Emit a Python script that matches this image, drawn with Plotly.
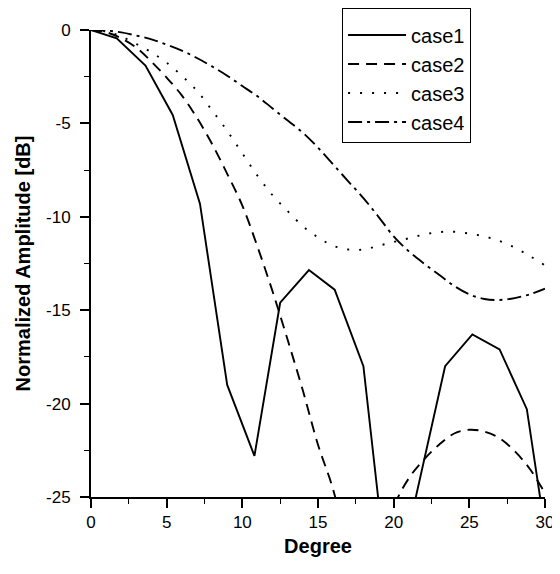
import plotly.graph_objects as go

# ---- data ----
deg_case1 = [0, 1.7, 3.6, 5.4, 7.2, 9.0, 10.8, 12.5, 14.4, 16.1, 18.0, 19.8, 21.3, 23.4, 25.2, 27.0, 28.8, 30.6]
amp_case1 = [0, -0.45, -1.9, -4.55, -9.3, -19.0, -22.8, -14.6, -12.85, -13.9, -18.0, -31.0, -25.6, -18.0, -16.3, -17.1, -20.3, -30.0]

deg_smooth = list(range(0, 31))
amp_case2 = [0, -0.12, -0.45, -0.95, -1.7, -2.55, -3.5, -4.7, -6.1, -7.7, -9.4, -11.6, -14.0, -16.6, -19.3,
             -22.2, -24.6, -28.0, -32.0, -30.0, -25.6, -24.0, -23.0, -22.2, -21.6, -21.4, -21.5, -21.85, -22.55,
             -23.5, -24.8]
amp_case3 = [0, -0.08, -0.35, -0.75, -1.2, -1.75, -2.45, -3.25, -4.3, -5.4, -6.6, -7.8, -8.85, -9.7, -10.5,
             -11.1, -11.55, -11.75, -11.75, -11.55, -11.35, -11.15, -10.95, -10.82, -10.8, -10.9, -11.05, -11.3,
             -11.65, -12.1, -12.6]
amp_case4 = [0, -0.03, -0.13, -0.3, -0.5, -0.78, -1.1, -1.5, -1.95, -2.45, -3.0, -3.55, -4.2, -4.85, -5.5,
             -6.3, -7.2, -8.1, -9.0, -10.0, -11.05, -11.85, -12.5, -13.1, -13.7, -14.15, -14.4, -14.45, -14.35,
             -14.15, -13.85]

x_ticks = [0, 5, 10, 15, 20, 25, 30]
y_ticks = [0, -5, -10, -15, -20, -25]

FONT = "Arial, Liberation Sans, sans-serif"
LW = 1.9

fig = go.Figure()
fig.add_trace(go.Scatter(x=deg_case1, y=amp_case1, mode="lines", name="case1", legendgroup="a",
                         line=dict(color="black", width=LW)))
fig.add_trace(go.Scatter(x=deg_smooth, y=amp_case2, mode="lines", name="case2", legendgroup="b",
                         line=dict(color="black", width=LW, dash="11px,7px", shape="spline")))
fig.add_trace(go.Scatter(x=deg_smooth, y=amp_case3, mode="lines", name="case3", legendgroup="c",
                         line=dict(color="black", width=LW, dash="2px,10px", shape="spline")))
fig.add_trace(go.Scatter(x=deg_smooth, y=amp_case4, mode="lines", name="case4", legendgroup="d",
                         line=dict(color="black", width=LW, dash="14px,5px,3px,5px", shape="spline")))

# The page body adds an 8px offset, so the figure is 8px smaller than the window.
fig.update_layout(
    width=552, height=566,
    margin=dict(l=83, r=15, t=22, b=77, autoexpand=False),
    paper_bgcolor="white", plot_bgcolor="white",
    font=dict(family=FONT, color="black", size=17),
    showlegend=True,
    legend=dict(
        x=0.553, y=1.047, xanchor="left", yanchor="top",
        bordercolor="black", borderwidth=1, bgcolor="white",
        font=dict(size=20, family=FONT, color="black"),
        title=dict(text=" ", font=dict(size=5)),
        tracegroupgap=0, itemwidth=58,
        entrywidth=120, entrywidthmode="pixels",
    ),
    xaxis=dict(
        range=[0, 30], tickvals=x_ticks, ticktext=[str(v) for v in x_ticks],
        showline=True, linecolor="black", linewidth=2, mirror=False,
        ticks="outside", ticklen=9, tickwidth=1.6, tickcolor="black",
        minor=dict(dtick=2.5, ticks="outside", ticklen=5, tickwidth=1.3, tickcolor="black", showgrid=False),
        showgrid=False, zeroline=False,
        tickfont=dict(size=17),
        title=dict(text="<b>Degree</b>", font=dict(size=20), standoff=8),
    ),
    yaxis=dict(
        range=[-25, 0], tickvals=y_ticks, ticktext=[str(v) for v in y_ticks],
        showline=True, linecolor="black", linewidth=2, mirror=False,
        ticks="outside", ticklen=9, tickwidth=1.6, tickcolor="black",
        minor=dict(dtick=2.5, ticks="outside", ticklen=5, tickwidth=1.3, tickcolor="black", showgrid=False),
        showgrid=False, zeroline=False,
        tickfont=dict(size=17), ticklabelstandoff=6,
        title=dict(text="<b>Normalized Amplitude [dB]</b>", font=dict(size=20), standoff=10),
    ),
)

fig.write_html("out.html")
